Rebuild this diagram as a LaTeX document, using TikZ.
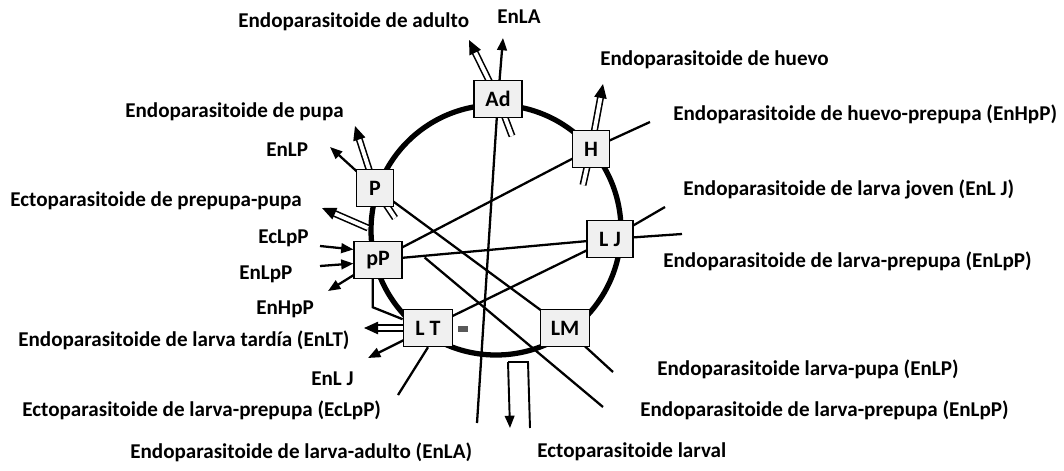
\documentclass[tikz,border=0pt]{standalone}
\usepackage{fontspec}
\setmainfont{Carlito}
\usetikzlibrary{arrows.meta}
\usetikzlibrary{calc}
\usetikzlibrary{backgrounds}

\begin{document}
\begin{tikzpicture}[x=0.02cm,y=-0.02cm,
  stage/.style={draw,line width=0.9pt,fill=gray!12,font=\bfseries\fontsize{12.5}{14}\selectfont,minimum height=21pt,inner sep=1pt},
  lbl/.style={font=\bfseries\fontsize{12}{14}\selectfont,inner sep=0pt,anchor=west},
  link/.style={line width=1.3pt},
  tip/.style={-{Triangle[length=7pt,width=5.5pt]}},
  hollow/.style={double,double distance=2.2pt,line width=0.9pt,-{Triangle[length=8pt,width=7pt]}}]
\useasboundingbox (0,0) rectangle (1064,470);

\foreach \n/\t/\x/\y/\w in {Ad/Ad/498/99/27,H/H/591/149/21,LJ/L J/610/239/26,LM/LM/565/328/28,LT/L T/428/328/28,pP/pP/378/260/27,P/P/375/188/21}
  \node[stage,minimum width=\w pt] (\n) at (\x,\y) {\t};

\coordinate (enla bot) at (477,423);
\coordinate (enla top) at (503,38);
\coordinate (ad in) at (512,136);
\coordinate (ad out) at (469,40);
\coordinate (h in) at (583,185);
\coordinate (h out) at (603,84);
\coordinate (p in) at (395,218);
\coordinate (p out) at (355,126);
\coordinate (ecpp in) at (368,228);
\coordinate (ecpp out) at (322,208);
\coordinate (enhpp r) at (650,122);
\coordinate (enhpp l) at (328,291);
\coordinate (enlj r) at (665,207);
\coordinate (enlj l) at (368,358);
\coordinate (enlpp r) at (682,234);
\coordinate (enlpp b) at (603,407);
\coordinate (enlp r) at (613,372);
\coordinate (enlp l) at (330,147);
\coordinate (eclpp b) at (398,395);
\coordinate (eclpp in) at (320,246);
\coordinate (enlpp in) at (320,266);
\coordinate (enlt out) at (364,328);
\coordinate (ecl a) at (510,428);
\coordinate (ecl b) at (508,362);
\coordinate (ecl c) at (528,362);
\coordinate (ecl d) at (530,428);

\begin{scope}[on background layer]
\draw[line width=3pt] (496,230) circle (125);
\fill[gray!70!black] (458,326) rectangle (468,332);
\draw[link,tip] (enla bot) -- (Ad.center) -- (enla top);
\draw[link,tip] (enhpp r) -- (H.center) -- (pP.center) -- (enhpp l);
\draw[link,tip] (enlj r) -- (LJ.center) -- (LT.center) -- (enlj l);
\draw[link] (enlpp r) -- (LJ.center) -- (pP.center);
\draw[link,tip] (enlp r) -- (LM.center) -- (P.center) -- (enlp l);
\draw[link] ($(pP.east)!0.12!(LJ.west)$) -- (enlpp b);
\draw[link] (LT.south) -- (eclpp b);
\draw[link] ([xshift=-3pt]pP.south) -- ++(0,28) -- ([yshift=5pt]LT.west);
\draw[link,tip] (eclpp in) -- ([yshift=6pt]pP.west);
\draw[link,tip] (enlpp in) -- ([yshift=-2pt]pP.west);
\draw[hollow] (ad in) -- (Ad.center) -- (ad out);
\draw[hollow] (h in) -- (H.center) -- (h out);
\draw[hollow] (p in) -- (P.center) -- (p out);
\draw[hollow] (ecpp in) -- (ecpp out);
\draw[hollow] (LT.west) -- (enlt out);
\draw[line width=1.1pt,tip] (ecl b) -- (ecl a);
\draw[line width=1.1pt] (ecl b) -- (ecl c) -- (ecl d);
\end{scope}

\node[lbl] (t ad) at (238,22) {Endoparasitoide de adulto};
\node[lbl] (t enla) at (497,17) {EnLA};
\node[lbl] (t hue) at (600,60) {Endoparasitoide de huevo};
\node[lbl] (t hpp) at (673,114) {Endoparasitoide de huevo-prepupa (EnHpP)};
\node[lbl] (t pupa) at (125,112) {Endoparasitoide de pupa};
\node[lbl] (t enlp) at (266,150) {EnLP};
\node[lbl] (t ecpp) at (10,201) {Ectoparasitoide de prepupa-pupa};
\node[lbl] (t lj) at (683,189) {Endoparasitoide de larva joven (EnL J)};
\node[lbl] (t eclpp) at (258,238) {EcLpP};
\node[lbl] (t lpp) at (663,261) {Endoparasitoide de larva-prepupa (EnLpP)};
\node[lbl] (t enlpp) at (239,274) {EnLpP};
\node[lbl] (t enhpp) at (256,309) {EnHpP};
\node[lbl] (t lt) at (18,340) {Endoparasitoide de larva tardía (EnLT)};
\node[lbl] (t enlj) at (311,379) {EnL J};
\node[lbl] (t lp) at (657,369) {Endoparasitoide larva-pupa (EnLP)};
\node[lbl] (t eclpp b) at (22,410) {Ectoparasitoide de larva-prepupa (EcLpP)};
\node[lbl] (t lpp b) at (640,410) {Endoparasitoide de larva-prepupa (EnLpP)};
\node[lbl] (t la) at (130,452) {Endoparasitoide de larva-adulto (EnLA)};
\node[lbl] (t ecl) at (537,452) {Ectoparasitoide larval};
\end{tikzpicture}
\end{document}
